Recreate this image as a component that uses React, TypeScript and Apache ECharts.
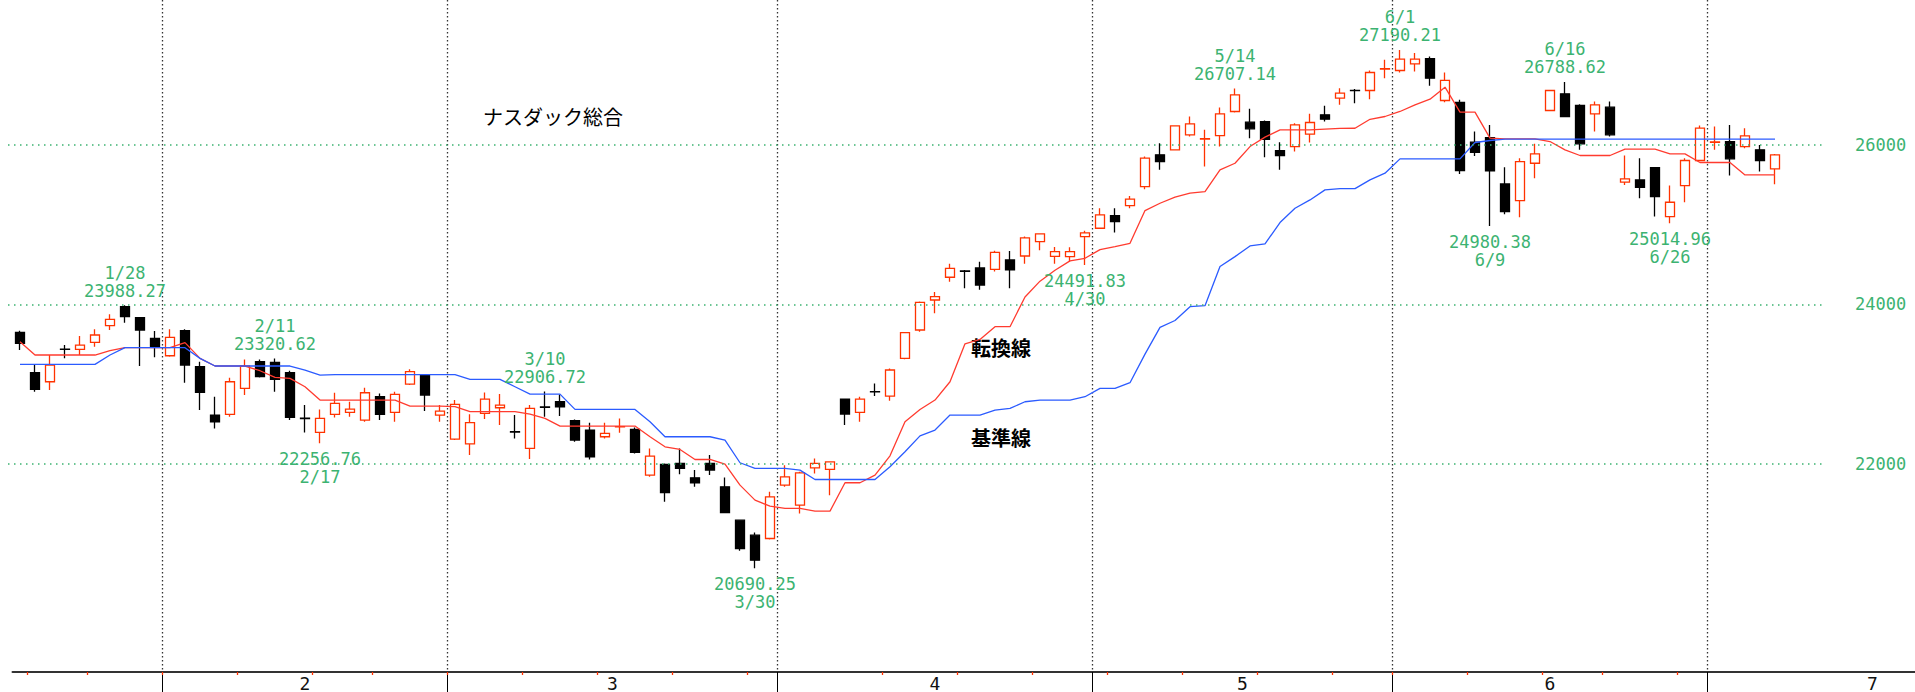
import React, { useEffect, useRef } from 'react';
import * as echarts from 'echarts';

const TITLE = 'ナスダック総合';
const TENKAN_NAME = '転換線';
const KIJUN_NAME = '基準線';

const dates = [
  '1/16','1/20','1/21','1/22','1/23','1/26','1/27','1/28','1/29','1/30',
  '2/2','2/3','2/4','2/5','2/6','2/9','2/10','2/11','2/12','2/13','2/17','2/18','2/19','2/20','2/23','2/24','2/25','2/26','2/27',
  '3/2','3/3','3/4','3/5','3/6','3/9','3/10','3/11','3/12','3/13','3/16','3/17','3/18','3/19','3/20','3/23','3/24','3/25','3/26','3/27','3/30','3/31',
  '4/1','4/2','4/6','4/7','4/8','4/9','4/10','4/13','4/14','4/15','4/16','4/17','4/20','4/21','4/22','4/23','4/24','4/27','4/28','4/29','4/30',
  '5/1','5/4','5/5','5/6','5/7','5/8','5/11','5/12','5/13','5/14','5/15','5/18','5/19','5/20','5/21','5/22','5/26','5/27','5/28','5/29',
  '6/1','6/2','6/3','6/4','6/5','6/8','6/9','6/10','6/11','6/12','6/15','6/16','6/17','6/18','6/22','6/23','6/24','6/25','6/26','6/29','6/30',
  '7/1','7/2','7/6','7/7','7/8'
];

// remaining (empty) trading days of July shown on the axis
const padDates = ['7/9','7/10','7/13','7/14','7/15','7/16','7/17','7/20','7/21','7/22','7/23','7/24','7/27','7/28','7/29','7/30','7/31'];

const opens = [
  23648,23142,23029,23439,23435,23523,23732,23970,23832,23573,
  23355,23669,23217,22611,22619,22946,23280,23272,23142,22572,22393,22619,22644,22548,22841,22644,23000,23104,22611,
  22310,22250,22632,22703,22402,22193,22712,22778,22540,22423,22339,22462,22431,21858,21992,22004,21824,22004,21711,21293,21105,21063,
  21732,21481,21950,21929,22812,22644,22906,22849,23322,23678,24054,24339,24418,24456,24439,24556,24606,24786,24600,24598,24849,
  24954,25113,25238,25476,25874,25937,26125,26073,26116,26418,26284,26292,25928,25978,26133,26376,26585,26683,26681,26951,
  26932,27016,27079,26556,26531,26033,26091,25510,25301,25769,26430,26639,26493,26388,26472,25531,25560,25715,25100,25489,25803,
  26031,26041,25978,25937,25698
];
const closes = [
  23510,22933,23238,23435,23489,23615,23811,23845,23678,23468,
  23586,23238,22895,22527,23029,23226,23092,23058,22582,22566,22569,22757,22686,22891,22619,22870,23155,22862,22661,
  22745,22515,22812,22736,22398,22694,22708,22715,22297,22088,22381,22466,22142,22096,21640,21942,21762,21921,21389,20938,20791,21586,
  21837,21887,22004,22025,22623,22812,22902,23176,23644,24025,24096,24451,24414,24242,24652,24431,24834,24883,24661,24661,24895,
  25121,25037,25318,25832,25790,26238,26263,26077,26388,26627,26200,26070,25865,26250,26280,26321,26648,26679,26907,26955,
  27074,27074,26836,26807,25677,25907,25673,25163,25790,25886,26681,26355,26012,26501,26125,25573,25468,25351,25280,25803,26209,
  26035,25824,26112,25803,25874
];
const lows = [
  23427,22904,22925,23322,23364,23468,23678,23770,23226,23335,
  23343,23017,22674,22444,22590,22862,23083,22904,22548,22393,22256.76,22582,22590,22527,22548,22527,22987,22661,22527,
  22297,22109,22561,22485,22318,22059,22590,22598,22276,22054,22318,22389,22130,21837,21523,21870,21711,21858,21380,20908,20690.25,21051,
  21711,21377,21879,21607,22485,22527,22849,22791,23310,23657,23887,24284,24200,24184,24410,24201,24510,24678,24510,24535,24491.83,
  24945,24899,25205,25443,25686,25930,26104,25727,25978,26405,26083,25845,25686,25916,26029,26292,26501,26522,26572,26836,
  26907,26920,26740,26535,25635,25861,24980.38,25129,25092,25581,26425,26347,25937,26167,26104,25497,25330,25100,25014.96,25280,25800,
  25937,25615,25958,25665,25506
];
const highs = [
  23669,23238,23364,23489,23602,23686,23874,23988.27,23840,23665,
  23686,23686,23280,22841,23079,23309,23309,23320.62,23167,22736,22682,22891,22778,22954,22883,22904,23184,23113,22736,
  22799,22620,22895,22874,22611,22736,22906.72,22870,22556,22515,22515,22569,22456,22193,22004,22193,21921,22109,21829,21300,21138,21649,
  21983,21900,22067,22030,22820,22841,23008,23196,23650,24035,24155,24510,24431,24535,24673,24669,24849,24891,24719,24715,24922,
  25205,25205,25359,25853,26020,26240,26355,26188,26468,26707.14,26451,26305,26033,26271,26388,26489,26710,26700,26932,27066,
  27190.21,27150,27108,26907,26564,26167,26250,25719,25832,26012,26685,26788.62,26510,26543,26543,25866,25832,25720,25489,25832,26242,
  26229,26250,26208,25999,25886
];

const tenkan = [
  23531,23364,23364,23364,23364,23364,23418,23456,23456,23456,
  23456,23519,23322,23226,23226,23226,23167,23084,23071,22966,22799,22799,22799,22799,22799,22799,22724,22724,22724,
  22716,22653,22653,22653,22653,22623,22569,22473,22473,22473,22473,22473,22473,22339,22213,22180,22054,22054,21996,21732,21544,21469,
  21440,21440,21406,21406,21762,21762,21858,22100,22527,22680,22799,23029,23505,23560,23719,23719,24092,24290,24427,24545,24577,
  24686,24723,24765,25175,25267,25343,25393,25414,25686,25769,25978,26096,26188,26188,26188,26196,26205,26208,26320,26355,
  26418,26501,26572,26723,26409,26409,26083,26075,26075,26075,26041,25937,25866,25866,25866,25945,25945,25945,25886,25886,25778,
  25778,25778,25623,25623,25623
];
const kijun = [
  23247,23247,23247,23247,23247,23247,23364,23456,23456,23456,
  23456,23456,23322,23226,23226,23226,23226,23226,23226,23176,23113,23117,23117,23117,23117,23117,23117,23117,23117,
  23117,23058,23058,23058,22966,22874,22874,22874,22682,22682,22682,22682,22682,22527,22339,22339,22339,22339,22297,22013,21942,21942,
  21942,21921,21803,21803,21803,21803,21803,21962,22151,22350,22423,22611,22611,22611,22674,22695,22778,22799,22799,22799,22841,
  22946,22946,23017,23375,23710,23797,23970,23983,24473,24598,24732,24757,25025,25205,25309,25435,25450,25450,25560,25644,
  25824,25824,25824,25824,25824,26029,26054,26071,26071,26071,26071,26071,26071,26071,26071,26071,26071,26071,26071,26071,26071,
  26071,26071,26071,26071,26071
];

const priceLines = [22000, 24000, 26000];
const weekTickDates = ['1/20','1/26','2/2','2/9','2/17','2/23','3/2','3/9','3/16','3/23','3/30','4/13','4/20','4/27','5/4','5/11','5/18','5/26','6/1','6/8','6/15','6/22','6/29'];

const highNotes = [
  { date: '1/28', value: 23988.27 },
  { date: '2/11', value: 23320.62 },
  { date: '3/10', value: 22906.72 },
  { date: '5/14', value: 26707.14 },
  { date: '6/1', value: 27190.21 },
  { date: '6/16', value: 26788.62 }
];
const lowNotes = [
  { date: '2/17', value: 22256.76 },
  { date: '3/30', value: 20690.25 },
  { date: '4/30', value: 24491.83 },
  { date: '6/9', value: 24980.38 },
  { date: '6/26', value: 25014.96 }
];

const GREEN = '#3CB371';
const RED = '#FF3300';
const MONO = '"DejaVu Sans Mono", "Liberation Mono", monospace';
const JP = '"Noto Sans CJK JP", "Noto Sans", sans-serif';

export default function App() {
  const ref = useRef<HTMLDivElement>(null);

  useEffect(() => {
    if (!ref.current) return;
    const chart = echarts.init(ref.current, null, { renderer: 'svg' });

    const cats = dates.concat(padDates);
    const monthOf = (s: string) => Number(s.split('/')[0]);
    const monthStarts = new Set<number>();
    const groups: { m: number; start: number; end: number }[] = [];
    cats.forEach((c, i) => {
      const m = monthOf(c);
      if (i === 0 || m !== monthOf(cats[i - 1])) {
        groups.push({ m, start: i, end: i + 1 });
        if (i > 0) monthStarts.add(i);
      } else {
        groups[groups.length - 1].end = i + 1;
      }
    });
    const labelAt = new Map<number, { m: number; half: boolean }>();
    groups.slice(1).forEach((g) => {
      const mid = (g.start + g.end) / 2 - 0.5;
      labelAt.set(Math.floor(mid), { m: g.m, half: mid % 1 !== 0 });
    });
    const weekSet = new Set(weekTickDates.map((d) => cats.indexOf(d)));

    const candleData = dates.map((_, i) => [opens[i], closes[i], lows[i], highs[i]]);

    const noteLabel = { color: GREEN, fontSize: 17, fontFamily: MONO, lineHeight: 18, align: 'center' };
    const markData = [
      ...highNotes.map((n) => ({
        coord: [n.date, n.value],
        value: n.value,
        label: { ...noteLabel, show: true, position: 'top', distance: 5, formatter: `${n.date}\n${n.value.toFixed(2)}` }
      })),
      ...lowNotes.map((n) => ({
        coord: [n.date, n.value],
        value: n.value,
        label: { ...noteLabel, show: true, position: 'bottom', distance: 6.5, formatter: `${n.value.toFixed(2)}\n${n.date}` }
      }))
    ];

    const yMin = 19389;
    const yMax = 27816;

    const option: any = {
      animation: false,
      backgroundColor: '#ffffff',
      grid: [
        { left: 12.5, top: 0, width: cats.length * 15, height: 672, containLabel: false, outerBoundsMode: 'none' },
        { left: 8, top: 0, width: 1815, height: 672, containLabel: false, outerBoundsMode: 'none' }
      ],
      xAxis: [
        {
          type: 'category',
          gridIndex: 0,
          data: cats,
          boundaryGap: true,
          position: 'bottom',
          axisLine: { show: true, onZero: false, lineStyle: { color: '#333333', width: 2 } },
          axisTick: {
            show: true,
            interval: (i: number) => monthStarts.has(i),
            length: 24,
            lineStyle: { color: '#000000', width: 1 }
          },
          axisLabel: {
            show: true,
            interval: (i: number) => labelAt.has(i),
            formatter: (_v: string, i: number) => {
              const l = labelAt.get(i);
              if (!l) return '';
              return l.half ? `{h|${l.m}}` : `${l.m}`;
            },
            color: '#111111',
            fontSize: 18,
            fontFamily: MONO,
            margin: 2,
            rich: { h: { padding: [0, 0, 0, 15], color: '#111111', fontSize: 18, fontFamily: MONO } }
          },
          splitLine: {
            show: true,
            interval: (i: number) => monthStarts.has(i),
            lineStyle: { color: '#333333', width: 1.3, type: [1.5, 2.5] }
          }
        },
        {
          type: 'category',
          gridIndex: 0,
          data: cats,
          boundaryGap: true,
          position: 'bottom',
          axisLine: { show: false, onZero: false },
          axisTick: {
            show: true,
            interval: (i: number) => weekSet.has(i),
            length: 3,
            lineStyle: { color: RED, width: 1.3 }
          },
          axisLabel: { show: false },
          splitLine: { show: false }
        },
        { type: 'value', gridIndex: 1, min: 0, max: 1, show: false }
      ],
      yAxis: [
        { type: 'value', gridIndex: 0, min: yMin, max: yMax, show: false, splitLine: { show: false } },
        { type: 'value', gridIndex: 1, min: yMin, max: yMax, show: false, splitLine: { show: false } }
      ],
      series: [
        {
          type: 'line',
          xAxisIndex: 2,
          yAxisIndex: 1,
          data: [[0, 24000]],
          symbol: 'none',
          silent: true,
          lineStyle: { opacity: 0 },
          z: 1,
          markLine: {
            silent: true,
            symbol: ['none', 'none'],
            lineStyle: { color: GREEN, type: [1.5, 4.5], width: 1.5 },
            label: {
              show: true,
              position: 'end',
              distance: 32,
              formatter: (p: any) => String(p.value),
              color: GREEN,
              fontSize: 17,
              fontFamily: MONO
            },
            emphasis: { disabled: true },
            data: priceLines.map((v) => ({ yAxis: v }))
          }
        },
        {
          type: 'candlestick',
          name: TITLE,
          xAxisIndex: 0,
          yAxisIndex: 0,
          data: candleData,
          barWidth: 9,
          z: 3,
          itemStyle: {
            color: '#ffffff',
            color0: '#000000',
            borderColor: RED,
            borderColor0: '#000000',
            borderWidth: 1.3
          },
          markPoint: {
            symbol: 'circle',
            symbolSize: 1,
            silent: true,
            itemStyle: { color: 'rgba(0,0,0,0)' },
            data: markData
          }
        },
        {
          type: 'line',
          name: TENKAN_NAME,
          xAxisIndex: 0,
          yAxisIndex: 0,
          data: tenkan,
          symbol: 'none',
          z: 4,
          lineStyle: { color: '#FF3B2F', width: 1.3 }
        },
        {
          type: 'line',
          name: KIJUN_NAME,
          xAxisIndex: 0,
          yAxisIndex: 0,
          data: kijun,
          symbol: 'none',
          z: 4,
          lineStyle: { color: '#2B5BFF', width: 1.3 }
        }
      ],
      graphic: [
        {
          type: 'text',
          x: 483,
          y: 116,
          style: { text: TITLE, fontSize: 20, fontFamily: JP, fill: '#000000', verticalAlign: 'middle', align: 'left' }
        },
        {
          type: 'text',
          x: 971,
          y: 347.5,
          style: { text: TENKAN_NAME, fontSize: 20, fontWeight: 'bold', fontFamily: JP, fill: '#000000', verticalAlign: 'middle', align: 'left' }
        },
        {
          type: 'text',
          x: 971,
          y: 437.5,
          style: { text: KIJUN_NAME, fontSize: 20, fontWeight: 'bold', fontFamily: JP, fill: '#000000', verticalAlign: 'middle', align: 'left' }
        }
      ]
    };

    chart.setOption(option);
    return () => {
      chart.dispose();
    };
  }, []);

  return (
    <div
      ref={ref}
      style={{ position: 'absolute', left: 0, top: 0, width: 1915, height: 692, background: '#ffffff', overflow: 'hidden' }}
    />
  );
}
